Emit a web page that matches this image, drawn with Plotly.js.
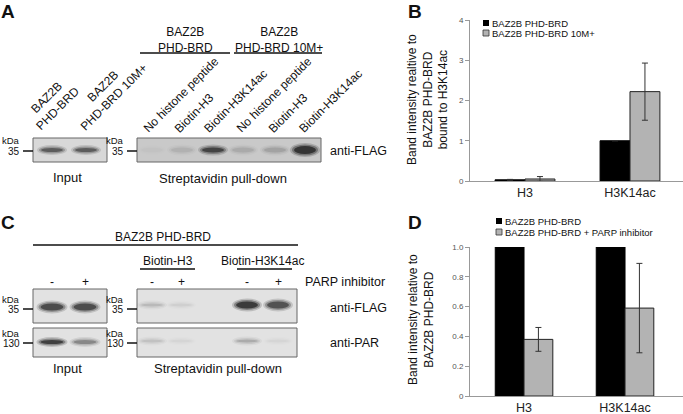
<!DOCTYPE html>
<html>
<head>
<meta charset="utf-8">
<script src="https://cdn.plot.ly/plotly-3.0.1.min.js"></script>
<style>
html, body {margin: 0; padding: 0; background: #fff;}
#fig {width: 683px; height: 414px;}
</style>
</head>
<body>
<div id="fig"></div>
<script>
// ---- panel B: pull-down quantification ----
var categories = ["H3", "H3K14ac"]
var seriesB = ["BAZ2B PHD-BRD", "BAZ2B PHD-BRD 10M+"]
var wtB = [0.03, 1.0]
var wtBErr = [0.01, 0]
var mutB = [0.05, 2.22]
var mutBErr = [0.06, 0.71]
var yTicksB = [0, 1, 2, 3, 4]

// ---- panel D: PARP inhibitor quantification ----
var seriesD = ["BAZ2B PHD-BRD", "BAZ2B PHD-BRD + PARP inhibitor"]
var ctrlD = [1.0, 1.0]
var parpD = [0.38, 0.59]
var parpDErr = [0.08, 0.30]
var yTicksD = [0, 0.2, 0.4, 0.6, 0.8, 1.0]
var yTickTextD = ["0", "0.2", "0.4", "0.6", "0.8", "1.0"]

// ---- blot lanes (band darkness 0..1) ----
var inputLanesA = ["BAZ2B<br>PHD-BRD", "BAZ2B<br>PHD-BRD 10M+"]
var pulldownLanesA = ["No histone peptide", "Biotin-H3", "Biotin-H3K14ac",
                      "No histone peptide", "Biotin-H3", "Biotin-H3K14ac"]
var bandsInputA = [0.7, 0.7]
var bandsPulldownA = [0.03, 0.12, 0.85, 0.15, 0.2, 1.0]
var peptidesC = ["Biotin-H3", "Biotin-H3K14ac"]
var parpSigns = ["-", "+"]
var bandsInputFlagC = [0.85, 0.85]
var bandsInputParC = [0.95, 0.45]
var bandsPullFlagC = [0.18, 0.08, 1.0, 0.8]
var bandsPullParC = [0.14, 0.05, 0.25, 0.05]

var W = 683, H = 414
var FONT = "Liberation Sans, Arial, sans-serif"
function px(x){ return x / W }
function py(y){ return 1 - y / H }

var shapes = []
var annotations = []

function text(str, x, y, opts){
    opts = opts || {}
    annotations.push({
        xref: "paper", yref: "paper", x: px(x), y: py(y),
        text: str, showarrow: false,
        xanchor: opts.xanchor || "center", yanchor: opts.yanchor || "middle",
        align: opts.align || "center",
        textangle: opts.angle || 0,
        font: {family: FONT, size: opts.size || 12, color: opts.color || "#111",
               weight: opts.weight || "normal"}
    })
}

// text rotated 45deg up-right, (sx, sy) = start of the baseline of the last line
function rotText(str, sx, sy, nLines, size){
    var lh = 1.3 * size
    var boxH = nLines * lh + 2
    var d = 0.28 * size + 1
    var blx = sx + 0.707 * d, bly = sy + 0.707 * d
    text(str, blx - 0.707 * boxH, bly, {xanchor: "left", yanchor: "bottom", angle: -45, size: size})
}

function line(x0, y0, x1, y1, w, c){
    shapes.push({type: "line", xref: "paper", yref: "paper",
        x0: px(x0), y0: py(y0), x1: px(x1), y1: py(y1),
        line: {color: c || "#111", width: w || 1.5}})
}

function rect(x0, y0, x1, y1, fill, lc){
    shapes.push({type: "rect", xref: "paper", yref: "paper",
        x0: px(x0), y0: py(y0), x1: px(x1), y1: py(y1),
        fillcolor: fill, line: {color: lc || "#666", width: 1}})
}

function band(cx, cy, w, h, a){
    if (a <= 0) return
    var layers = [[w + 6, h + 4, 0.3], [w + 2, h + 1, 0.55], [w - 2, h - 2, 1.0]]
    layers.forEach(function(l){
        shapes.push({type: "circle", xref: "paper", yref: "paper",
            x0: px(cx - l[0] / 2), x1: px(cx + l[0] / 2),
            y0: py(cy - l[1] / 2), y1: py(cy + l[1] / 2),
            fillcolor: "#000", opacity: a * l[2] * 0.55, line: {width: 0}})
    })
}

function kda(xr, y, mw){
    text("kDa", xr, y - 10, {xanchor: "right", size: 9.5})
    text(mw, xr, y, {xanchor: "right", size: 10})
    line(xr + 1, y, xr + 11, y, 1.5)
}

// ---------------- panel A ----------------
text("<b>A</b>", 8, 11, {size: 19})
text("BAZ2B<br>PHD-BRD", 185, 40, {})
line(140, 53, 230, 53, 1.5)
text("BAZ2B<br>PHD-BRD 10M+", 279, 40, {})
line(234, 53, 322, 53, 1.5)

var inputCentersA = [52, 86]
var inputStartsA = [40, 84]
inputLanesA.forEach(function(s, i){ rotText(s, inputStartsA[i], 133, 2, 12) })
var pullCentersA = [152, 182, 213, 243, 275, 305]
var pullStartsA = [147, 178, 208, 240, 272, 303]
pulldownLanesA.forEach(function(s, i){ rotText(s, pullStartsA[i], 135, 1, 12) })

rect(33, 138, 107, 162, "#d8d8d8")
bandsInputA.forEach(function(a, i){ band(inputCentersA[i], 150, 24, 6, a) })
rect(137, 138, 321, 162, "#c9c9c9")
bandsPulldownA.forEach(function(a, i){
    band(pullCentersA[i], 150, 24, a > 0.9 ? 10 : 7, a)
})
kda(22, 151, "35")
kda(126, 151, "35")
text("anti-FLAG", 328, 151, {xanchor: "left", size: 12.5})
text("Input", 67, 177, {size: 13})
text("Streptavidin pull-down", 223, 178, {size: 13})

// ---------------- panel C ----------------
text("<b>C</b>", 8, 222, {size: 19})
text("BAZ2B PHD-BRD", 163, 237, {})
line(33, 245, 298, 245, 1.5)
var pepCenters = [168, 262]
var pepLines = [[140, 195], [237, 292]]
peptidesC.forEach(function(s, i){
    text(s, pepCenters[i], 261, {})
    line(pepLines[i][0], 269, pepLines[i][1], 269, 1.5)
})
var inputCentersC = [52, 85]
var pullCentersC = [152, 181, 247, 278]
inputCentersC.forEach(function(x, i){ text(parpSigns[i % 2], x, 282, {}) })
pullCentersC.forEach(function(x, i){ text(parpSigns[i % 2], x, 282, {}) })
text("PARP inhibitor", 303, 282, {xanchor: "left", size: 12.5})

rect(33, 289, 107, 323, "#e2e2e2")
rect(33, 328, 107, 357, "#e2e2e2")
rect(137, 289, 297, 323, "#e2e2e2")
rect(137, 328, 297, 357, "#e2e2e2")
bandsInputFlagC.forEach(function(a, i){ band(inputCentersC[i], 307, 25, 9, a) })
bandsInputParC.forEach(function(a, i){ band(inputCentersC[i], 342, 25, 6, a) })
bandsPullFlagC.forEach(function(a, i){ band(pullCentersC[i], 305, 24, a > 0.5 ? 9 : 5, a) })
bandsPullParC.forEach(function(a, i){ band(pullCentersC[i], 341, 24, 5, a) })
kda(22, 309, "35")
kda(22, 343, "130")
kda(126, 309, "35")
kda(126, 343, "130")
text("anti-FLAG", 328, 308, {xanchor: "left", size: 12.5})
text("anti-PAR", 328, 343, {xanchor: "left", size: 12.5})
text("Input", 67, 368, {size: 13})
text("Streptavidin pull-down", 218, 368, {size: 13})

// ---------------- panels B and D ----------------
text("<b>B</b>", 415, 11, {size: 19})
text("<b>D</b>", 415, 222, {size: 19})
text("Band intensity realtive to<br>BAZ2B PHD-BRD<br>bound to H3K14ac", 428, 100, {angle: -90})
text("Band intensity relative to<br>BAZ2B PHD-BRD", 421, 320, {angle: -90})

var BLACK = "#000"
var GREY = "#b3b3b3"

// small legends drawn next to the plots
function legendItem(x, y, color, label){
    shapes.push({type: "rect", xref: "paper", yref: "paper",
        x0: px(x), x1: px(x + 6), y0: py(y - 3), y1: py(y + 3),
        fillcolor: color, line: {color: "#333", width: color === BLACK ? 0 : 0.8}})
    text(label, x + 7, y, {xanchor: "left", size: 9.5})
}
legendItem(483, 23, BLACK, seriesB[0])
legendItem(483, 33, GREY, seriesB[1])
legendItem(496, 221, BLACK, seriesD[0])
legendItem(496, 232, GREY, seriesD[1])

var errStyle = function(arr){
    return {type: "data", array: arr, visible: true, color: "#333", thickness: 1, width: 3}
}

var data = [
    {type: "bar", name: seriesB[0], x: categories, y: wtB, xaxis: "x", yaxis: "y",
     marker: {color: BLACK, line: {color: BLACK, width: 1}}, error_y: errStyle(wtBErr)},
    {type: "bar", name: seriesB[1], x: categories, y: mutB, xaxis: "x", yaxis: "y",
     marker: {color: GREY, line: {color: "#222", width: 1}}, error_y: errStyle(mutBErr)},
    {type: "bar", name: seriesD[0], x: categories, y: ctrlD, xaxis: "x2", yaxis: "y2",
     marker: {color: BLACK, line: {color: BLACK, width: 1}}},
    {type: "bar", name: seriesD[1], x: categories, y: parpD, xaxis: "x2", yaxis: "y2",
     marker: {color: GREY, line: {color: "#222", width: 1}}, error_y: errStyle(parpDErr)}
]

var xStyle = {
    showline: true, linecolor: "#999", linewidth: 1, ticks: "", showgrid: false,
    zeroline: false, fixedrange: true,
    tickfont: {family: FONT, size: 12.5, color: "#222"}
}
var yStyle = {
    showline: true, linecolor: "#999", linewidth: 1, ticks: "outside", ticklen: 4,
    tickcolor: "#999", showgrid: false, zeroline: false, fixedrange: true,
    tickfont: {family: FONT, size: 8, color: "#555"}
}

var layout = {
    width: W, height: H,
    margin: {l: 0, r: 0, t: 0, b: 0},
    paper_bgcolor: "#fff", plot_bgcolor: "rgba(0,0,0,0)",
    showlegend: false,
    barmode: "group", bargap: 0.43, bargroupgap: 0,
    font: {family: FONT},
    xaxis: Object.assign({}, xStyle, {domain: [px(470), 1], range: [-0.524, 1.505], anchor: "y"}),
    yaxis: Object.assign({}, yStyle, {domain: [py(181), py(20)], range: [0, 4],
        tickvals: yTicksB, anchor: "x"}),
    xaxis2: Object.assign({}, xStyle, {domain: [px(470), 1], range: [-0.535, 1.574], anchor: "y2"}),
    yaxis2: Object.assign({}, yStyle, {domain: [py(396), py(247)], range: [0, 1],
        tickvals: yTicksD, ticktext: yTickTextD, anchor: "x2"}),
    shapes: shapes,
    annotations: annotations
}

Plotly.newPlot("fig", data, layout, {displayModeBar: false, staticPlot: true})
</script>
</body>
</html>
